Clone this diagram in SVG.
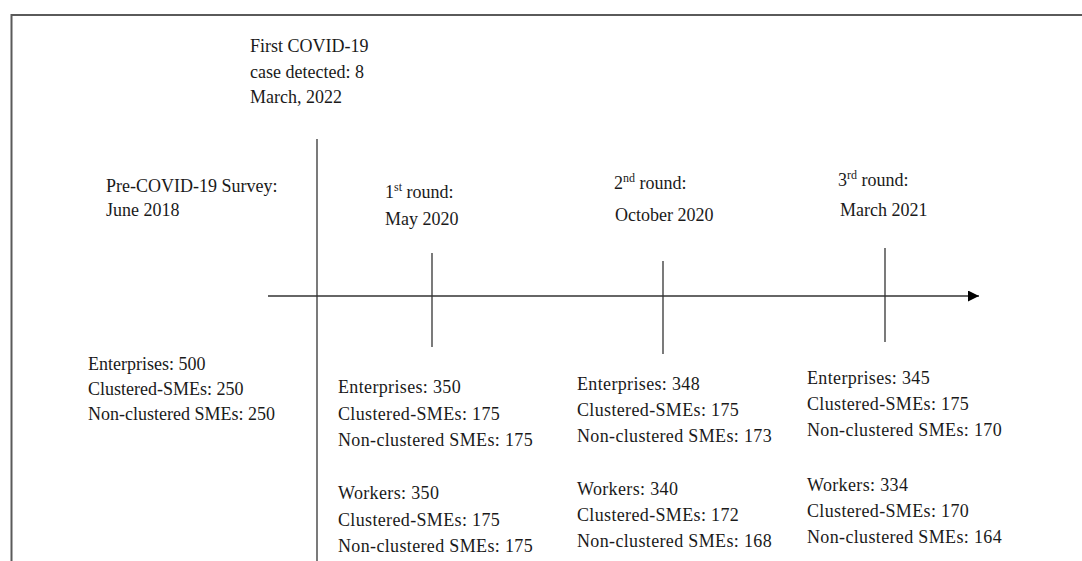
<svg xmlns="http://www.w3.org/2000/svg" width="1082" height="561" viewBox="0 0 1082 561">
<defs>
<style>
text{font-family:'Liberation Serif','DejaVu Serif',serif;fill:#1a1a1a;font-size:18px}
.d{letter-spacing:0.35px}
.sup{font-size:12px}
.ln{stroke:#333;stroke-width:1.3;fill:none}
</style>
<marker id="ah" markerWidth="12" markerHeight="12" refX="11" refY="5.5" orient="auto" markerUnits="userSpaceOnUse">
<path d="M0,0 L11,5.5 L0,11 Z" fill="#000"/>
</marker>
</defs>
<rect width="1082" height="561" fill="#fff"/>
<rect x="11.5" y="15" width="1080" height="560" fill="none" stroke="#5a5a5a" stroke-width="2"/>
<g id="connectors">
<line class="ln" x1="268" y1="296" x2="979" y2="296" marker-end="url(#ah)"/>
<line class="ln" x1="317" y1="139" x2="317" y2="561"/>
<line class="ln" x1="432" y1="253" x2="432" y2="347"/>
<line class="ln" x1="663" y1="261" x2="663" y2="354"/>
<line class="ln" x1="885" y1="248" x2="885" y2="342"/>
</g>
<g id="first-case">
<text x="250" y="52">First COVID-19</text>
<text x="250" y="78">case detected: 8</text>
<text x="250" y="103">March, 2022</text>
</g>
<g id="pre-covid">
<text x="106" y="192">Pre-COVID-19 Survey:</text>
<text x="106" y="216">June 2018</text>
<text x="88" y="370">Enterprises: 500</text>
<text x="88" y="395">Clustered-SMEs: 250</text>
<text x="88" y="420">Non-clustered SMEs: 250</text>
</g>
<g id="round1">
<text x="385" y="198">1<tspan class="sup" dy="-7">st</tspan><tspan dy="7"> round:</tspan></text>
<text x="385" y="225">May 2020</text>
<text class="d" x="338" y="393">Enterprises: 350</text>
<text class="d" x="338" y="420">Clustered-SMEs: 175</text>
<text class="d" x="338" y="446">Non-clustered SMEs: 175</text>
<text class="d" x="338" y="499">Workers: 350</text>
<text class="d" x="338" y="526">Clustered-SMEs: 175</text>
<text class="d" x="338" y="552">Non-clustered SMEs: 175</text>
</g>
<g id="round2">
<text x="614" y="189">2<tspan class="sup" dy="-7">nd</tspan><tspan dy="7"> round:</tspan></text>
<text x="615" y="221">October 2020</text>
<text class="d" x="577" y="390">Enterprises: 348</text>
<text class="d" x="577" y="416">Clustered-SMEs: 175</text>
<text class="d" x="577" y="442">Non-clustered SMEs: 173</text>
<text class="d" x="577" y="495">Workers: 340</text>
<text class="d" x="577" y="521">Clustered-SMEs: 172</text>
<text class="d" x="577" y="547">Non-clustered SMEs: 168</text>
</g>
<g id="round3">
<text x="838" y="186">3<tspan class="sup" dy="-7">rd</tspan><tspan dy="7"> round:</tspan></text>
<text x="840" y="216">March 2021</text>
<text class="d" x="807" y="384">Enterprises: 345</text>
<text class="d" x="807" y="410">Clustered-SMEs: 175</text>
<text class="d" x="807" y="436">Non-clustered SMEs: 170</text>
<text class="d" x="807" y="491">Workers: 334</text>
<text class="d" x="807" y="517">Clustered-SMEs: 170</text>
<text class="d" x="807" y="543">Non-clustered SMEs: 164</text>
</g>
</svg>
